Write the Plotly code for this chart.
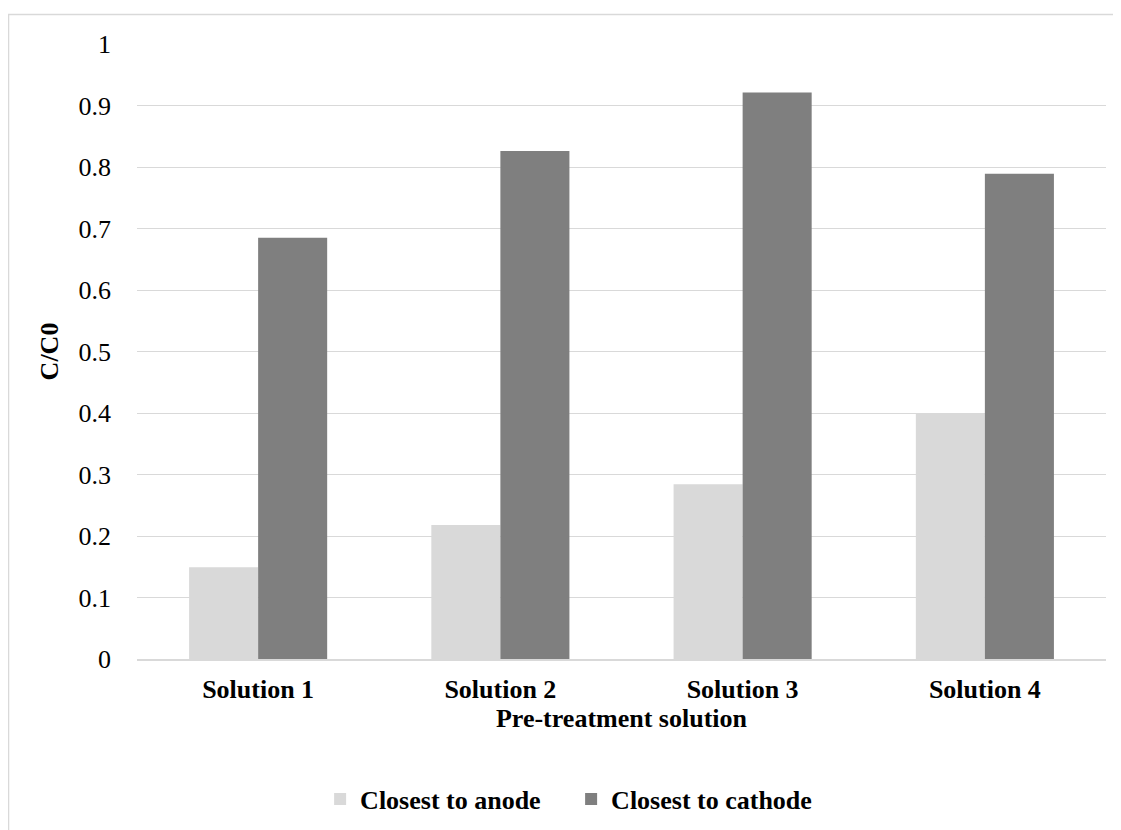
import plotly.graph_objects as go

categories = ["Solution 1", "Solution 2", "Solution 3", "Solution 4"]
anode = [0.149, 0.218, 0.284, 0.400]
cathode = [0.685, 0.826, 0.921, 0.789]
y_ticks = [0, 0.1, 0.2, 0.3, 0.4, 0.5, 0.6, 0.7, 0.8, 0.9, 1]
y_tick_text = ["0", "0.1", "0.2", "0.3", "0.4", "0.5", "0.6", "0.7", "0.8", "0.9", "1"]

FONT = "Liberation Serif, Times New Roman, serif"
FS = 26

fig = go.Figure()
fig.add_trace(go.Bar(x=categories, y=anode, name="<b>Closest to anode</b>",
                     marker=dict(color="#d9d9d9", line=dict(width=0))))
fig.add_trace(go.Bar(x=categories, y=cathode, name="<b>Closest to cathode</b>",
                     marker=dict(color="#7f7f7f", line=dict(width=0))))

fig.update_layout(
    width=1121, height=830,
    paper_bgcolor="white", plot_bgcolor="white",
    margin=dict(l=129, r=23, t=36, b=179),
    barmode="group", bargap=0.43, bargroupgap=0,
    font=dict(family=FONT, size=FS, color="black"),
    showlegend=True,
    legend=dict(orientation="h", x=0.448, xanchor="center", y=-0.228, yanchor="middle",
                font=dict(family=FONT, size=FS, color="black"),
                itemwidth=30, traceorder="normal",
                entrywidth=206, entrywidthmode="pixels"),
    xaxis=dict(
        tickfont=dict(family=FONT, size=FS, color="black"),
        tickprefix="<b>", ticksuffix="</b>",
        showgrid=False, showline=True, linecolor="#d9d9d9", linewidth=1.5,
        ticks="", ticklabelstandoff=6,
        title=dict(text="<b>Pre-treatment solution</b>", standoff=6,
                   font=dict(family=FONT, size=FS, color="black")),
    ),
    yaxis=dict(
        range=[0, 1], tickvals=y_ticks, ticktext=y_tick_text,
        tickfont=dict(family=FONT, size=FS, color="black"),
        showgrid=True, gridcolor="#d9d9d9", gridwidth=1.3,
        zeroline=False, showline=False, ticks="", ticklabelstandoff=25,
        title=dict(text="<b>C/C0</b>", standoff=12,
                   font=dict(family=FONT, size=FS, color="black")),
    ),
    shapes=[dict(type="rect", xref="paper", yref="paper",
                 x0=-0.1326, x1=1.2, y0=-0.6, y1=1.048,
                 line=dict(color="#d9d9d9", width=1.5), fillcolor="rgba(0,0,0,0)",
                 layer="below")],
)

fig.write_html("out.html")
